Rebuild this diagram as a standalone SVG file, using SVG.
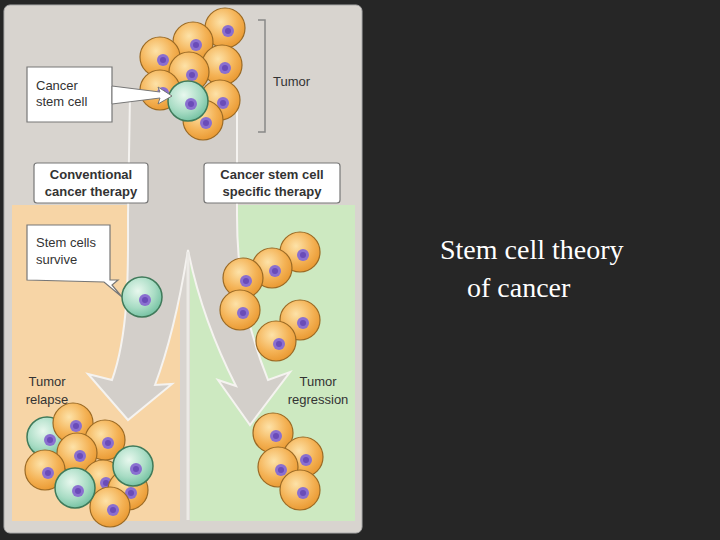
<svg xmlns="http://www.w3.org/2000/svg" width="720" height="540" viewBox="0 0 720 540">
<defs>
<radialGradient id="og" cx="0.4" cy="0.35" r="0.7"><stop offset="0" stop-color="#fde2a8"/><stop offset="0.6" stop-color="#f4b255"/><stop offset="1" stop-color="#e8962e"/></radialGradient>
<radialGradient id="sg" cx="0.4" cy="0.35" r="0.7"><stop offset="0" stop-color="#e8f8ee"/><stop offset="0.6" stop-color="#a8dcc4"/><stop offset="1" stop-color="#6fbf9f"/></radialGradient>
<g id="oc"><circle r="20" fill="url(#og)" stroke="#9a6a25" stroke-width="1.2"/><circle cx="3" cy="3" r="6" fill="#8a6fd0"/><circle cx="3" cy="3" r="3" fill="#6a4cb8"/></g>
<g id="sc"><circle r="20" fill="url(#sg)" stroke="#3f7a5a" stroke-width="1.5"/><circle cx="3" cy="3" r="6" fill="#8a6fd0"/><circle cx="3" cy="3" r="3" fill="#6a4cb8"/></g>
</defs>
<style>
.lbl{font-family:"Liberation Sans",Arial,sans-serif;font-size:13px;fill:#333}
.b{font-weight:bold}
.box{fill:#fff;stroke:#777;stroke-width:1.2}
</style>
<rect width="720" height="540" fill="#262626"/>
<rect x="4" y="5" width="358" height="528" rx="6" fill="#d8d4cf" stroke="#aaa"/>
<rect x="12" y="205" width="168" height="316" fill="#f7d5a6"/>
<rect x="190" y="205" width="165" height="316" fill="#cde9c1"/>
<g id="connectors">
<path d="M130,95 L237,95 L237,215 C237,290 252,340 268,380 L290,372 L250,425 L218,380 L236,386 C215,345 198,300 188,250 C180,300 170,345 155,385 L172,384 L128,420 L88,374 L112,380 C130,330 128,260 128,215 Z" fill="#d3cfca" stroke="#f5f3f0" stroke-width="2"/>
<path d="M188,252 L188,520" stroke="#eceae6" stroke-width="3"/>
</g>
<g id="tumor">
<use href="#oc" x="225" y="28"/><use href="#oc" x="193" y="42"/><use href="#oc" x="160" y="57"/>
<use href="#oc" x="222" y="65"/><use href="#oc" x="189" y="72"/><use href="#oc" x="160" y="90"/>
<use href="#oc" x="220" y="100"/><use href="#oc" x="203" y="120"/><use href="#sc" x="188" y="101"/>
</g>
<g id="tumor-label"><path d="M258,20 H265 V132 H258" fill="none" stroke="#888" stroke-width="1.5"/><text class="lbl" x="273" y="86">Tumor</text></g>
<g id="csc-label"><path d="M27,67 H112 V122 H27 Z" class="box"/><path d="M112,86 L160,92 L158,87 L172,96 L158,104 L160,98 L112,104 Z" fill="#fff" stroke="#777"/><text class="lbl" x="36" y="90">Cancer</text><text class="lbl" x="36" y="106">stem cell</text></g>
<g id="conv"><rect x="34" y="163" width="114" height="40" rx="3" class="box"/><text class="lbl b" x="91" y="179" text-anchor="middle">Conventional</text><text class="lbl b" x="91" y="196" text-anchor="middle">cancer therapy</text></g>
<g id="spec"><rect x="204" y="163" width="136" height="40" rx="3" class="box"/><text class="lbl b" x="272" y="179" text-anchor="middle">Cancer stem cell</text><text class="lbl b" x="272" y="196" text-anchor="middle">specific therapy</text></g>
<g id="survive"><path d="M27,225 H110 V280 H110 L118,280 L112,285 L122,297 L104,282 L27,280 Z" class="box"/><text class="lbl" x="36" y="247">Stem cells</text><text class="lbl" x="36" y="264">survive</text><use href="#sc" x="142" y="297"/></g>
<g id="mid-right">
<use href="#oc" x="300" y="252"/><use href="#oc" x="272" y="268"/><use href="#oc" x="243" y="278"/>
<use href="#oc" x="240" y="310"/><use href="#oc" x="300" y="320"/><use href="#oc" x="276" y="341"/>
</g>
<g id="relapse">
<text class="lbl" x="47" y="386" text-anchor="middle">Tumor</text><text class="lbl" x="47" y="404" text-anchor="middle">relapse</text>
<use href="#sc" x="47" y="437"/><use href="#oc" x="73" y="423"/><use href="#oc" x="105" y="440"/>
<use href="#oc" x="77" y="453"/><use href="#oc" x="45" y="470"/><use href="#oc" x="103" y="480"/>
<use href="#oc" x="128" y="490"/><use href="#oc" x="110" y="507"/><use href="#sc" x="133" y="466"/><use href="#sc" x="75" y="488"/>
</g>
<g id="regression">
<text class="lbl" x="318" y="386" text-anchor="middle">Tumor</text><text class="lbl" x="318" y="404" text-anchor="middle">regression</text>
<use href="#oc" x="273" y="433"/><use href="#oc" x="303" y="457"/><use href="#oc" x="278" y="467"/><use href="#oc" x="300" y="490"/>
</g>
<g id="title" font-family="'Liberation Serif','Times New Roman',serif" font-size="28" fill="#fff">
<text x="440" y="259">Stem cell theory</text><text x="467" y="297">of cancer</text>
</g>
</svg>
